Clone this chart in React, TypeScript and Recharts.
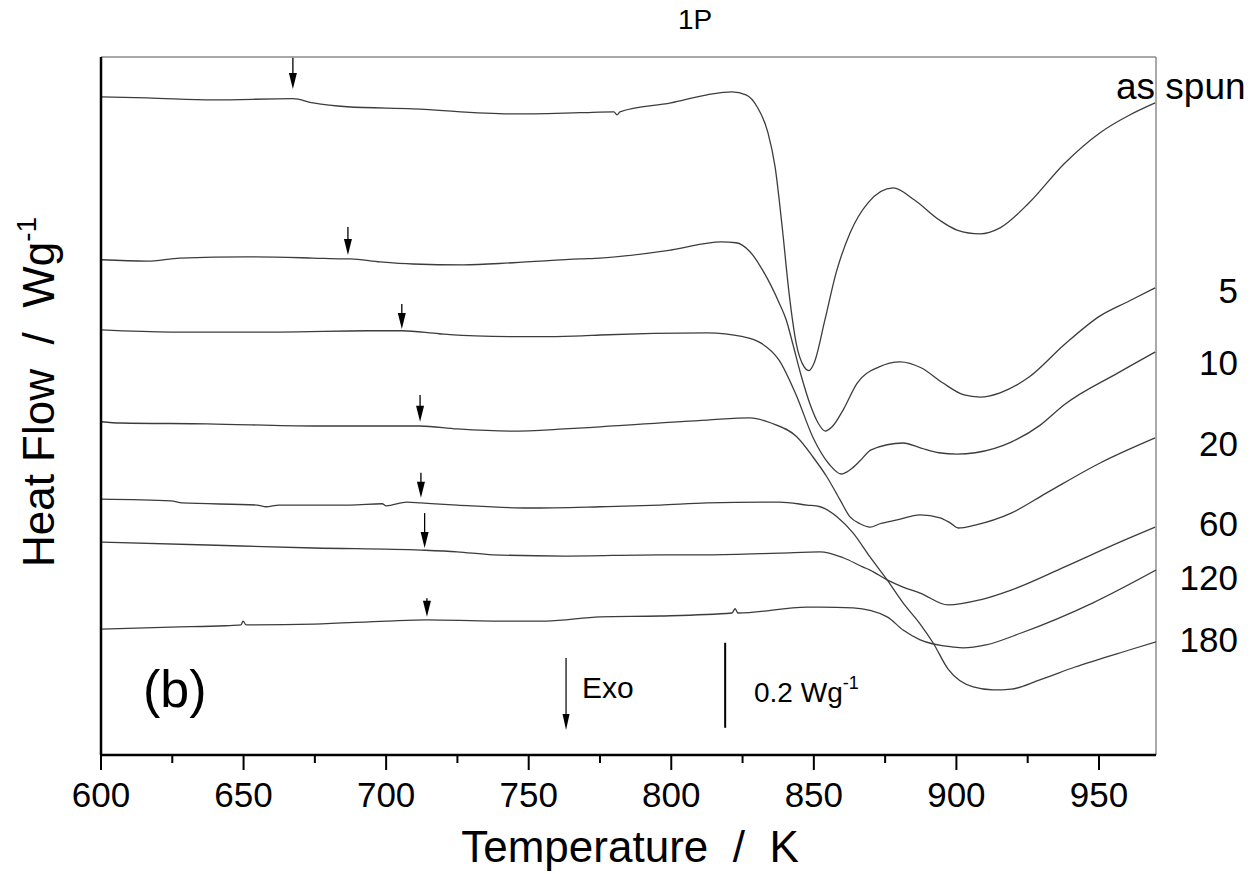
import React from 'react';
import {
  ComposedChart,
  Line,
  XAxis,
  YAxis,
  ReferenceLine,
  ReferenceDot,
} from 'recharts';

// DSC traces, [temperature K, heat flow W/g (offset per trace)]
const asSpun: [number, number][] = [
  [600, 1.548], [616.1, 1.546], [639.3, 1.541], [667.3, 1.544], [674.4, 1.534], [686.3, 1.525],
  [709.4, 1.52], [743.5, 1.508], [768, 1.511], [779.9, 1.513], [781, 1.506], [782, 1.513],
  [799.9, 1.534], [812.6, 1.553], [821.3, 1.56], [826.2, 1.553], [830.1, 1.525], [833.9, 1.464],
  [836.4, 1.384], [838.9, 1.242], [841.3, 1.087], [843.8, 0.969], [846.6, 0.913], [848.3, 0.904],
  [850.1, 0.922], [853.9, 1.024], [857.8, 1.134], [862.7, 1.228], [869, 1.299], [877.8, 1.334],
  [885.2, 1.306], [893.9, 1.259], [900.2, 1.235], [908.3, 1.226], [915.3, 1.24], [925.5, 1.299],
  [937.8, 1.391], [950.4, 1.464], [960.6, 1.505], [969.7, 1.534],
];

const min5: [number, number][] = [
  [600, 1.165], [616.1, 1.162], [627.7, 1.169], [651.2, 1.172], [674.4, 1.169], [684.9, 1.167],
  [687.3, 1.167], [697.9, 1.16], [709.4, 1.155], [727, 1.153], [744.5, 1.158], [768, 1.167],
  [775, 1.169], [799.9, 1.188], [817.5, 1.207], [822.7, 1.205], [827.6, 1.184], [832.6, 1.134],
  [837.8, 1.064], [840.3, 1.024], [842.7, 0.965], [845.2, 0.901], [849, 0.819], [851.5, 0.781],
  [854, 0.762], [856.4, 0.772], [860.3, 0.812], [865.2, 0.875], [872.9, 0.913], [880.3, 0.925],
  [887.6, 0.911], [895.3, 0.875], [902.7, 0.847], [908.3, 0.842], [915.3, 0.852], [925.5, 0.889],
  [937.8, 0.965], [950.4, 1.033], [960.6, 1.068], [969.7, 1.099],
];

const min10: [number, number][] = [
  [600, 1.0], [624.6, 0.995], [662.4, 0.995], [693.7, 0.998], [705.6, 0.998], [718.6, 0.991],
  [731.2, 0.986], [750.1, 0.984], [768.7, 0.986], [775, 0.988], [812.6, 0.993], [825.2, 0.984],
  [831.5, 0.969], [837.8, 0.929], [843.8, 0.847], [849.7, 0.747], [855.4, 0.684], [859.6, 0.661],
  [862.7, 0.671], [866.2, 0.692], [870.1, 0.718], [881.3, 0.734], [887.6, 0.722], [893.9, 0.711],
  [900.2, 0.708], [906.6, 0.711], [919.2, 0.736], [929.4, 0.776], [937.8, 0.824], [956.7, 0.899],
  [969.7, 0.948],
];

const min20: [number, number][] = [
  [600, 0.784], [607, 0.781], [637.2, 0.779], [674.7, 0.774], [700, 0.774], [711.9, 0.774],
  [724.9, 0.767], [743.8, 0.762], [762.4, 0.767], [775, 0.772], [812.6, 0.788], [827.6, 0.793],
  [835, 0.781], [844.1, 0.748], [849.7, 0.701], [854.6, 0.654], [859.2, 0.6], [862.7, 0.56],
  [866.2, 0.544], [869.7, 0.536], [873.2, 0.544], [879.2, 0.553], [887.3, 0.565], [894.3, 0.558],
  [897.8, 0.546], [900.6, 0.534], [906.6, 0.541], [919.2, 0.569], [931.5, 0.616], [950.4, 0.687],
  [969.7, 0.746],
];

const min180: [number, number][] = [
  [600, 0.602], [624.6, 0.598], [628.4, 0.593], [654.7, 0.588], [657.9, 0.584], [662.4, 0.588],
  [687.3, 0.588], [698.6, 0.591], [700, 0.586], [707.3, 0.595], [712.2, 0.593], [724.9, 0.588],
  [750.1, 0.581], [775, 0.584], [796.1, 0.588], [812.6, 0.593], [837.8, 0.595], [847.6, 0.588],
  [852.2, 0.584], [858.2, 0.56], [863.8, 0.522], [869.7, 0.466], [875.7, 0.412], [881.3, 0.358],
  [887.3, 0.308], [891.8, 0.264], [897.1, 0.202], [905.9, 0.16], [912.9, 0.153], [919.2, 0.155],
  [929, 0.176], [941.6, 0.207], [960.6, 0.247], [970, 0.266],
];

const min60: [number, number][] = [
  [600, 0.501], [637.2, 0.494], [674.7, 0.487], [712.2, 0.482], [724.9, 0.478], [737.5, 0.471],
  [762.4, 0.468], [796.1, 0.471], [812.6, 0.471], [837.8, 0.475], [852.2, 0.478], [860.3, 0.464],
  [867.3, 0.442], [869.7, 0.435], [875.7, 0.412], [881.3, 0.395], [887.3, 0.381], [897.1, 0.353],
  [908.3, 0.365], [919.2, 0.388], [937.8, 0.442], [956.7, 0.499], [969.7, 0.536],
];

const min120: [number, number][] = [
  [600, 0.296], [624.6, 0.301], [643.5, 0.304], [649.1, 0.306], [649.8, 0.315], [650.9, 0.306],
  [674.7, 0.308], [700, 0.315], [714.3, 0.318], [737.5, 0.315], [756.1, 0.315], [775, 0.325],
  [796.1, 0.327], [821.3, 0.334], [822.4, 0.344], [823.4, 0.334], [847.6, 0.348], [852.2, 0.348],
  [863.8, 0.346], [875.7, 0.325], [881.3, 0.294], [887.3, 0.271], [898.8, 0.254], [902.4, 0.252],
  [910.4, 0.259], [922.7, 0.287], [947.9, 0.358], [970, 0.435],
];

const traces = [asSpun, min5, min10, min20, min180, min60, min120];

// glass transition markers (arrows): temperature, arrow tail and tip heat flow
const tgT = [667.3, 686.6, 705.5, 711.9, 712.2, 713.5, 714.3];
const tgTail = [1.64, 1.242, 1.061, 0.847, 0.664, 0.569, 0.369];
const tgTip = [1.567, 1.176, 1.002, 0.784, 0.605, 0.487, 0.325];

// exo arrow and 0.2 W/g scale bar
const exoArrow = { T: 763.1, from: 0.228, to: 0.059 };
const scaleBar = { T: 818.9, from: 0.064, to: 0.264 };

const xMajor = [600, 650, 700, 750, 800, 850, 900, 950];
const xMinor = [625, 675, 725, 775, 825, 875, 925];
const xTicks = [...xMajor, ...xMinor].sort((a, b) => a - b);

const xDomain = [600, 970];
const yDomain = [0, 1.642];

const FONT = '"Liberation Sans", Arial, sans-serif';
const CURVE = '#3c3c3c';
const FRAME = '#8c8c8c';

const toRows = (pts: [number, number][]) => pts.map(([T, v]) => ({ T, v }));

// draws tick mark (major / minor) and the label for major ticks
const XTick = (props: any) => {
  const { x, y, payload } = props;
  const major = xMajor.includes(payload.value);
  return (
    <g>
      <line x1={x} y1={y} x2={x} y2={y + (major ? 15 : 8)} stroke="#000" strokeWidth={2} />
      {major && (
        <text x={x} y={y + 52} textAnchor="middle" fontSize={35} fontFamily={FONT} fill="#000">
          {payload.value}
        </text>
      )}
    </g>
  );
};

const arrowHead = (w: number, h: number) => (props: any) => {
  const { cx, cy } = props;
  return (
    <polygon
      points={`${cx - w / 2},${cy - h} ${cx + w / 2},${cy - h} ${cx},${cy}`}
      fill="#000"
      stroke="none"
    />
  );
};

const NB = '\u00A0';

export default function App() {
  return (
    <div style={{ position: 'absolute', left: 0, top: 0, width: 1257, height: 874, background: '#fff' }}>
      <ComposedChart width={1257} height={874} margin={{ top: 57, right: 101, bottom: 118, left: 100 }}>
        <XAxis
          type="number"
          dataKey="T"
          domain={xDomain}
          ticks={xTicks}
          interval={0}
          allowDataOverflow
          height={1}
          tickSize={0}
          tickMargin={0}
          tick={XTick}
          tickLine={false}
          axisLine={{ stroke: '#000', strokeWidth: 2.5 }}
        />
        <YAxis
          type="number"
          domain={yDomain}
          allowDataOverflow
          width={1}
          tick={false}
          tickLine={false}
          axisLine={{ stroke: '#000', strokeWidth: 2.5 }}
        />
        <ReferenceLine y={yDomain[1]} stroke={FRAME} strokeWidth={1.5} />
        <ReferenceLine x={xDomain[1]} stroke={FRAME} strokeWidth={1.5} />

        {traces.map((pts, i) => (
          <Line
            key={`trace-${i}`}
            data={toRows(pts)}
            dataKey="v"
            type="monotone"
            stroke={CURVE}
            strokeWidth={1.3}
            dot={false}
            activeDot={false}
            isAnimationActive={false}
          />
        ))}

        {tgT.map((t, i) => (
          <ReferenceLine
            key={`tg-shaft-${i}`}
            segment={[{ x: t, y: tgTail[i] }, { x: t, y: tgTip[i] + 0.02 }]}
            stroke="#000"
            strokeWidth={1.3}
          />
        ))}
        {tgT.map((t, i) => (
          <ReferenceDot
            key={`tg-head-${i}`}
            x={t}
            y={tgTip[i]}
            r={1}
            shape={arrowHead(8, 16)}
          />
        ))}

        <ReferenceLine
          segment={[{ x: exoArrow.T, y: exoArrow.from }, { x: exoArrow.T, y: exoArrow.to + 0.02 }]}
          stroke="#000"
          strokeWidth={1.2}
        />
        <ReferenceDot x={exoArrow.T} y={exoArrow.to} r={1} shape={arrowHead(7, 16)} />
        <ReferenceLine
          segment={[{ x: scaleBar.T, y: scaleBar.from }, { x: scaleBar.T, y: scaleBar.to }]}
          stroke="#000"
          strokeWidth={2}
        />
      </ComposedChart>

      <svg
        width={1257}
        height={874}
        style={{ position: 'absolute', left: 0, top: 0, pointerEvents: 'none' }}
        fontFamily={FONT}
        fill="#000"
      >
        <text x={695} y={29} fontSize={28} textAnchor="middle">1P</text>
        <text transform="translate(54,392) rotate(-90)" fontSize={44} textAnchor="middle">
          {`Heat Flow${NB}${NB}/${NB}${NB}Wg`}
          <tspan dy={-18} fontSize={28}>-1</tspan>
        </text>
        <text x={630} y={862} fontSize={44} textAnchor="middle">{`Temperature${NB}${NB}/${NB}${NB}K`}</text>
        <text x={143} y={707} fontSize={52}>(b)</text>
        <text x={582} y={698} fontSize={30}>Exo</text>
        <text x={754} y={702} fontSize={28}>
          0.2 Wg
          <tspan dy={-13} fontSize={18}>-1</tspan>
        </text>
        <text x={1116} y={99} fontSize={37}>as spun</text>
        <text x={1238} y={303} fontSize={35} textAnchor="end">5</text>
        <text x={1238} y={375} fontSize={35} textAnchor="end">10</text>
        <text x={1238} y={456} fontSize={35} textAnchor="end">20</text>
        <text x={1238} y={536} fontSize={35} textAnchor="end">60</text>
        <text x={1238} y={590} fontSize={35} textAnchor="end">120</text>
        <text x={1238} y={652} fontSize={35} textAnchor="end">180</text>
      </svg>
    </div>
  );
}
